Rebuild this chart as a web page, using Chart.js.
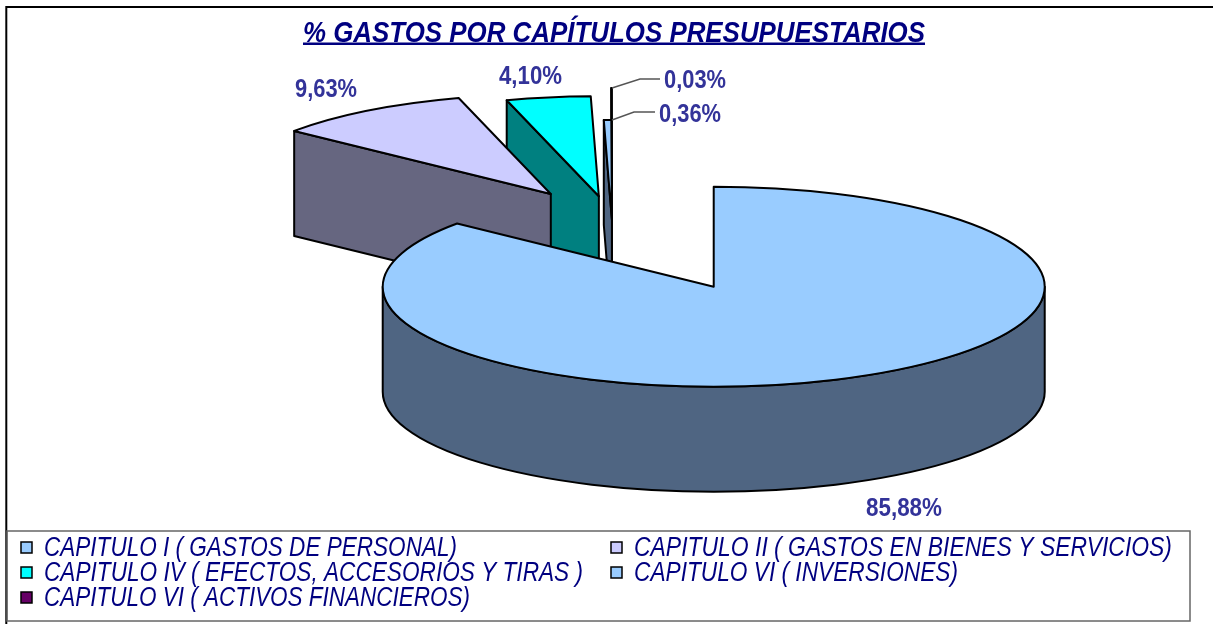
<!DOCTYPE html>
<html lang="es">
<head>
<meta charset="utf-8">
<title>% Gastos por capítulos presupuestarios</title>
<script src="https://cdn.jsdelivr.net/npm/chart.js@4/dist/chart.umd.min.js"></script>
<style>
    html, body { margin: 0; padding: 0; background: #fff; overflow: hidden; }
    canvas { display: block; }
</style>
</head>
<body>
<canvas id="chart" width="1213" height="624"></canvas>
<script>
// Data
const chartTitle = '% GASTOS POR CAPÍTULOS PRESUPUESTARIOS';
const categories = [
    'CAPITULO I ( GASTOS DE PERSONAL)',
    'CAPITULO II ( GASTOS EN BIENES Y SERVICIOS)',
    'CAPITULO IV ( EFECTOS, ACCESORIOS Y TIRAS )',
    'CAPITULO VI ( INVERSIONES)',
    'CAPITULO VI ( ACTIVOS FINANCIEROS)'
];
const percentages = [85.88, 9.63, 4.10, 0.36, 0.03];

// Slice styling
const topColors = ['#99CCFF', '#CCCCFF', '#00FFFF', '#99CCFF', '#660066'];
const sideColors = ['#4F6582', '#666680', '#008080', '#4F6582', '#330033'];
const explode = [0.716, 0.335, 0.26, 0.02, 0.34];   // fraction of the radius

// 3D projection of the pie, in page pixels
const PIE = { x: 612, y: 222, rx: 331, ry: 100, depth: 105 };

// Text and legend layout
const labelSpots = [[866, 509], [295, 90], [499, 77], [659, 115], [664, 81]];
const labelWidths = [76, 62, 63, 62, 62];
const leaders = { 3: [[612, 120], [634, 112], [655, 112]], 4: [[612, 88], [640, 79], [660, 79]] };
const legendSpots = [[21, 548], [611, 548], [21, 573], [611, 573], [21, 598]];
const legendWidths = [413, 538, 539, 324, 426];

const formatPct = v => v.toFixed(2).replace('.', ',') + '%';

function sideFaces(ctx, R, dz, start, end) {
    const faces = [];
    if (Math.cos(start) < -1e-6) faces.push(start);
    if (Math.cos(end) > 1e-6) faces.push(end);
    return faces.map(a => () => {
        ctx.moveTo(0, 0);
        ctx.lineTo(R * Math.cos(a), R * Math.sin(a));
        ctx.lineTo(R * Math.cos(a), R * Math.sin(a) + dz);
        ctx.lineTo(0, dz);
        ctx.closePath();
    });
}

// the front part of the rim, where the angle is on the lower half of the ellipse
function rimRanges(start, end) {
    const ranges = [];
    for (let k = -1; k <= 1; k++) {
        const a = Math.max(start, 2 * Math.PI * k);
        const b = Math.min(end, Math.PI + 2 * Math.PI * k);
        if (b > a) ranges.push([a, b]);
    }
    return ranges;
}

const pie3d = {
    id: 'pie3d',
    beforeDatasetDraw(chart, args) {
        const ctx = chart.ctx;
        const arcs = args.meta.data;
        ctx.save();
        ctx.lineJoin = 'round';
        ctx.strokeStyle = '#000';
        ctx.lineWidth = 2;

        const fillAndStroke = (el, i, fill, buildPath) => {
            const R = el.outerRadius;
            const mid = (el.startAngle + el.endAngle) / 2;
            ctx.save();
            ctx.translate(PIE.x, PIE.y);
            ctx.scale(PIE.rx / R, PIE.ry / R);
            ctx.translate(Math.cos(mid) * explode[i] * R, Math.sin(mid) * explode[i] * R);
            ctx.beginPath();
            buildPath(R);
            ctx.restore();
            ctx.fillStyle = fill;
            ctx.fill();
            ctx.stroke();
        };

        // back slices first, the big slice last
        for (let i = arcs.length - 1; i >= 0; i--) {
            const el = arcs[i];
            const R = el.outerRadius;
            const dz = PIE.depth * R / PIE.ry;
            sideFaces(ctx, R, dz, el.startAngle, el.endAngle).forEach(face => {
                fillAndStroke(el, i, sideColors[i], face);
            });
            rimRanges(el.startAngle, el.endAngle).forEach(([a, b]) => {
                fillAndStroke(el, i, sideColors[i], () => {
                    ctx.arc(0, 0, R, a, b);
                    ctx.arc(0, dz, R, b, a, true);
                    ctx.closePath();
                });
            });

            // top face: the library's own arc, squashed
            const mid = (el.startAngle + el.endAngle) / 2;
            ctx.save();
            ctx.translate(PIE.x, PIE.y);
            ctx.scale(PIE.rx / R, PIE.ry / R);
            ctx.translate(Math.cos(mid) * explode[i] * R - el.x, Math.sin(mid) * explode[i] * R - el.y);
            el.draw(ctx);
            ctx.restore();
            fillAndStroke(el, i, topColors[i], () => {
                ctx.moveTo(0, 0);
                ctx.arc(0, 0, R, el.startAngle, el.endAngle);
                ctx.closePath();
            });
        }
        ctx.restore();
        return false;
    },
    afterDraw(chart) {
        const ctx = chart.ctx;
        ctx.save();

        // frame
        ctx.strokeStyle = '#000';
        ctx.lineWidth = 2;
        ctx.beginPath();
        ctx.moveTo(6.3, 624);
        ctx.lineTo(6.3, 7);
        ctx.lineTo(1213, 7);
        ctx.stroke();

        // legend box
        ctx.strokeStyle = '#666';
        ctx.lineWidth = 1.5;
        ctx.strokeRect(7, 531, 1183, 90);

        // title
        ctx.textBaseline = 'alphabetic';
        ctx.fillStyle = '#000080';
        ctx.font = 'italic bold 30px "Liberation Sans"';
        ctx.fillText(chartTitle, 303, 42, 622);
        ctx.fillRect(303, 42.5, 622, 2.5);

        // data labels
        ctx.font = 'bold 25px "Liberation Sans"';
        ctx.textBaseline = 'middle';
        ctx.fillStyle = '#333399';
        percentages.forEach((v, i) => {
            ctx.fillText(formatPct(v), labelSpots[i][0], labelSpots[i][1], labelWidths[i]);
        });
        ctx.strokeStyle = '#555';
        ctx.lineWidth = 1.5;
        Object.values(leaders).forEach(points => {
            ctx.beginPath();
            points.forEach(([x, y], n) => n ? ctx.lineTo(x, y) : ctx.moveTo(x, y));
            ctx.stroke();
        });

        // legend
        ctx.font = 'italic 27px "Liberation Sans"';
        categories.forEach((name, i) => {
            const [x, y] = legendSpots[i];
            ctx.fillStyle = topColors[i];
            ctx.strokeStyle = '#000';
            ctx.lineWidth = 1.5;
            ctx.fillRect(x, y - 6, 11, 11);
            ctx.strokeRect(x, y - 6, 11, 11);
            ctx.fillStyle = '#000080';
            ctx.fillText(name, x + 23, y, legendWidths[i]);
        });
        ctx.restore();
    }
};

new Chart(document.getElementById('chart'), {
    type: 'pie',
    data: {
        labels: categories,
        datasets: [{ data: percentages, backgroundColor: topColors, borderWidth: 0 }]
    },
    options: {
        responsive: false,
        animation: false,
        events: [],
        plugins: { legend: { display: false }, tooltip: { enabled: false } }
    },
    plugins: [pie3d]
});
</script>
</body>
</html>
